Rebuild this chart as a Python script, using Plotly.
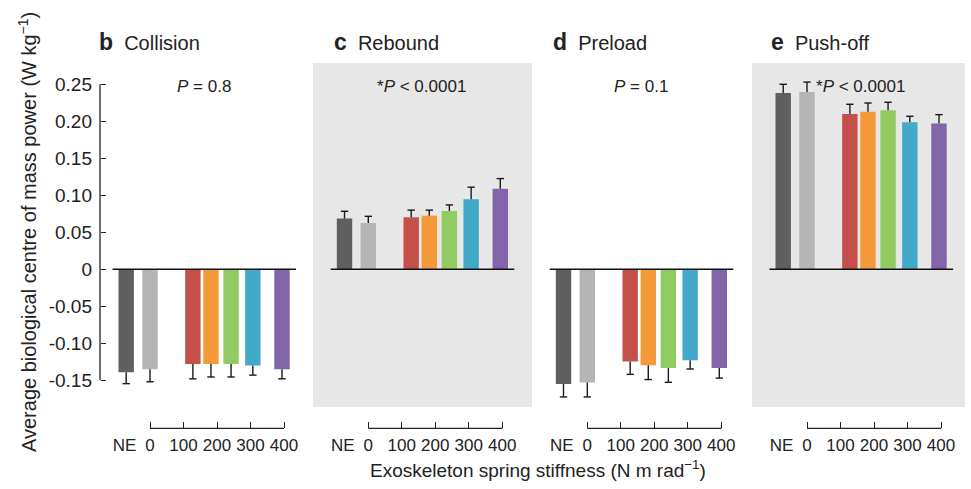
import plotly.graph_objects as go

# ---------------- data ----------------
conditions = ["NE", "0", "k1", "k2", "k3", "k4", "k5"]
bar_x = [-71, 0, 128, 182, 242, 307, 394]          # position on stiffness axis
bar_colors = ["#5f5f5f", "#b5b5b7", "#c5504a", "#f59a38", "#93cb63", "#43a9c8", "#8264a8"]

collision = [-0.139, -0.135, -0.128, -0.128, -0.128, -0.130, -0.135]
collision_err = [0.0155, 0.017, 0.020, 0.0175, 0.0175, 0.013, 0.013]

rebound = [0.0685, 0.0626, 0.0703, 0.0725, 0.0788, 0.0946, 0.109]
rebound_err = [0.0099, 0.009, 0.0097, 0.0075, 0.0082, 0.0164, 0.0136]

preload = [-0.155, -0.153, -0.1247, -0.1297, -0.1333, -0.123, -0.1333]
preload_err = [0.0175, 0.0195, 0.0173, 0.0193, 0.0194, 0.0117, 0.0137]

pushoff = [0.2383, 0.2396, 0.210, 0.213, 0.215, 0.1986, 0.197]
pushoff_err = [0.0117, 0.0134, 0.013, 0.0117, 0.0107, 0.0082, 0.012]

panel_letters = ["b", "c", "d", "e"]
panel_names = ["Collision", "Rebound", "Preload", "Push-off"]
p_values = ["<i>P</i> = 0.8", "*<i>P</i> &lt; 0.0001", "<i>P</i> = 0.1", "*<i>P</i> &lt; 0.0001"]
shaded = [False, True, False, True]

x_tickvals = [-76, 0, 100, 200, 300, 400]
x_ticktext = ["NE", "0", "100", "200", "300", "400"]
bracket_ticks = [0, 100, 200, 300, 400]
y_tickvals = [-0.15, -0.10, -0.05, 0, 0.05, 0.10, 0.15, 0.20, 0.25]
y_ticktext = ["-0.15", "-0.10", "-0.05", "0", "0.05", "0.10", "0.15", "0.20", "0.25"]

values = [collision, rebound, preload, pushoff]
errors = [collision_err, rebound_err, preload_err, pushoff_err]

# ---------------- layout geometry ----------------
W, H = 971, 489
FONT = "Liberation Sans, Arial, sans-serif"
TXT = "#222222"
px_per_unit = 0.335
panel_px = [(94, 313, 150), (313, 532, 368.3), (532, 751, 587.3), (752, 965, 807)]
title_x = [-158, -107, -107, -113]
y_dom_px = (63, 407)
zero_px = 269.3
y_px_per_unit = 740.0
y_range = [-(y_dom_px[1] - zero_px) / y_px_per_unit, (zero_px - y_dom_px[0]) / y_px_per_unit]
bracket_y = 1 - 428.3 / H
yaxis_x = 100 / W
bar_width = 46
cap = 11

fig = go.Figure()
shapes = []
annotations = []

for i in range(4):
    ax = "" if i == 0 else str(i + 1)
    xa = "x" + ax
    fig.add_trace(go.Bar(
        x=bar_x, y=values[i], width=bar_width,
        marker=dict(color=bar_colors, line=dict(width=0)),
        xaxis=xa, yaxis="y", showlegend=False, hoverinfo="skip",
    ))
    ex, ey = [], []
    for xv, v, e in zip(bar_x, values[i], errors[i]):
        tip = v + e if v >= 0 else v - e
        ex += [xv, xv, None, xv - cap, xv + cap, None]
        ey += [v, tip, None, tip, tip, None]
    fig.add_trace(go.Scatter(
        x=ex, y=ey, mode="lines", line=dict(color="#1a1a1a", width=1.4),
        xaxis=xa, yaxis="y", showlegend=False, hoverinfo="skip",
    ))

    d0, d1, z = panel_px[i]
    rng = [(d0 - z) / px_per_unit, (d1 - z) / px_per_unit]
    fig.update_layout(**{
        ("xaxis" + ax): dict(
            domain=[d0 / W, d1 / W], range=rng, anchor="free", position=bracket_y,
            showgrid=False, zeroline=False, showline=False,
            tickmode="array", tickvals=x_tickvals, ticktext=x_ticktext, ticks="",
            ticklabelstandoff=5,
            tickfont=dict(family=FONT, size=17, color=TXT),
            minor=dict(tickmode="array", tickvals=bracket_ticks, ticks="inside",
                       ticklen=6, tickwidth=1.3, tickcolor="#222222", showgrid=False),
        )
    })

    if shaded[i]:
        shapes.append(dict(type="rect", xref=xa + " domain", yref="y domain",
                           x0=0, x1=1, y0=0, y1=1, fillcolor="#e7e7e7",
                           line=dict(width=0), layer="below"))
    # zero baseline
    shapes.append(dict(type="line", xref=xa, yref="y", x0=-112, x1=436, y0=0, y1=0,
                       line=dict(color="#111111", width=1.6)))
    # bottom bracket axis
    shapes.append(dict(type="line", xref=xa, yref="paper", x0=0, x1=400,
                       y0=bracket_y, y1=bracket_y, line=dict(color="#222222", width=1.3)))

    # panel title
    annotations.append(dict(
        xref=xa, yref="paper", x=title_x[i], y=1 - 42 / H,
        xanchor="left", yanchor="middle", showarrow=False,
        text=f"<b><span style='font-size:23px'>{panel_letters[i]}</span></b>  {panel_names[i]}",
        font=dict(family=FONT, size=20, color=TXT),
    ))
    # P value
    annotations.append(dict(
        xref=xa, yref="y", x=160, y=0.247, xanchor="center", yanchor="middle",
        showarrow=False, text=p_values[i],
        font=dict(family=FONT, size=17, color=TXT),
    ))

# y axis line
shapes.append(dict(type="line", xref="paper", yref="y", x0=yaxis_x, x1=yaxis_x,
                   y0=-0.15, y1=0.25, line=dict(color="#222222", width=1.3)))

annotations.append(dict(
    xref="paper", yref="paper", x=27 / W, y=1 - 232 / H, textangle=-90,
    xanchor="center", yanchor="middle", showarrow=False,
    text="Average biological centre of mass power (W kg<sup>\u22121</sup>)",
    font=dict(family=FONT, size=20, color=TXT),
))
annotations.append(dict(
    xref="paper", yref="paper", x=538 / W, y=1 - 469 / H,
    xanchor="center", yanchor="middle", showarrow=False,
    text="Exoskeleton spring stiffness (N m rad<sup>\u22121</sup>)",
    font=dict(family=FONT, size=19, color=TXT),
))

fig.update_layout(
    width=W, height=H,
    margin=dict(l=0, r=0, t=0, b=0),
    paper_bgcolor="white", plot_bgcolor="rgba(0,0,0,0)",
    barmode="overlay", showlegend=False,
    yaxis=dict(
        domain=[1 - y_dom_px[1] / H, 1 - y_dom_px[0] / H], range=y_range,
        anchor="free", position=yaxis_x, showgrid=False, zeroline=False, showline=False,
        tickmode="array", tickvals=y_tickvals, ticktext=y_ticktext,
        ticks="inside", ticklen=5, tickwidth=1.3, tickcolor="#222222",
        ticklabelstandoff=8,
        tickfont=dict(family=FONT, size=19, color=TXT),
    ),
    shapes=shapes, annotations=annotations,
)

fig.write_html("out.html")
